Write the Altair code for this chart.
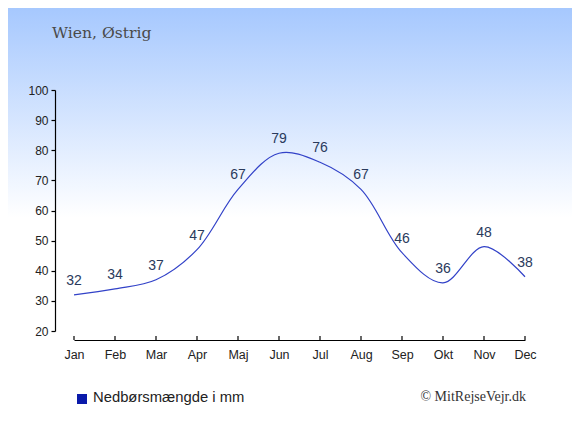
import altair as alt
import pandas as pd

months = ["Jan", "Feb", "Mar", "Apr", "Maj", "Jun", "Jul", "Aug", "Sep", "Okt", "Nov", "Dec"]
precip = [32, 34, 37, 47, 67, 79, 76, 67, 46, 36, 48, 38]
title_text = "Wien, Østrig"
legend_text = "Nedbørsmængde i mm"
credit_text = "© MitRejseVejr.dk"
y_ticks = [20, 30, 40, 50, 60, 70, 80, 90, 100]

W, H = 451, 241
PL, PT, PR, PB = 66, 82, 47, 96

df = pd.DataFrame({"month": months, "value": precip})
one = pd.DataFrame({"a": [0]})

xenc = alt.X("month:N", sort=months,
             scale=alt.Scale(type="point", padding=0),
             axis=alt.Axis(title=None, labelAngle=0, offset=9, tickSize=0,
                           labelPadding=8, labelFont="Liberation Sans",
                           labelFontSize=12.5, labelColor="#222222",
                           labelOverlap=False,
                           domainColor="#000000", domainWidth=1.2, zindex=2))
yenc = alt.Y("value:Q", scale=alt.Scale(domain=[20, 100], nice=False, zero=False),
             axis=alt.Axis(title=None, values=y_ticks, offset=19, tickSize=4,
                           labelPadding=3, labelFont="Liberation Sans",
                           labelFontSize=12, labelColor="#222222",
                           labelOverlap=False,
                           domainColor="#000000", tickColor="#000000",
                           domainWidth=1.2, tickWidth=1.2, grid=False, zindex=2))

gradient = alt.Gradient(
    gradient="linear", x1=0, y1=0, x2=0, y2=1,
    stops=[alt.GradientStop(offset=0, color="#a6c8fe"),
           alt.GradientStop(offset=0.5, color="#ffffff"),
           alt.GradientStop(offset=1, color="#ffffff")])

bg = alt.Chart(one).mark_rect(color=gradient, clip=False).encode(
    x=alt.value(-PL), x2=alt.value(W + PR),
    y=alt.value(-PT), y2=alt.value(H + PB))

line = alt.Chart(df).mark_line(interpolate="catmull-rom", color="#3242c8",
                               strokeWidth=1.2).encode(x=xenc, y=yenc)

labels = alt.Chart(df).mark_text(dy=-14, font="Liberation Sans", fontSize=14,
                                 color="#2a3a5c", baseline="middle").encode(
    x=xenc, y=yenc, text="value:Q")

xticks = alt.Chart(df).mark_rule(color="#000000", strokeWidth=1.2).encode(
    x=xenc, y=alt.value(H + 9), y2=alt.value(H + 5))

title = alt.Chart(one).mark_text(text=title_text, font="DejaVu Serif", fontSize=15.6,
                                 color="#4a4a4a", align="left",
                                 baseline="alphabetic").encode(
    x=alt.value(-22), y=alt.value(-52))

legend_sq = alt.Chart(one).mark_square(color="#0a1aaa", size=100, opacity=1).encode(
    x=alt.value(8), y=alt.value(309))

legend_tx = alt.Chart(one).mark_text(text=legend_text, font="Liberation Sans",
                                     fontSize=14.8, color="#222222", align="left",
                                     baseline="middle").encode(
    x=alt.value(19), y=alt.value(308))

credit = alt.Chart(one).mark_text(text=credit_text, font="Liberation Serif",
                                  fontSize=14, color="#333333", align="right",
                                  baseline="middle").encode(
    x=alt.value(452), y=alt.value(307))

chart = alt.layer(bg, line, labels, xticks, title, legend_sq, legend_tx, credit).properties(
    width=W, height=H,
    autosize=alt.AutoSizeParams(type="none"),
    padding={"left": PL, "top": PT, "right": PR, "bottom": PB},
    background="#ffffff",
).configure_view(stroke=None)

chart.save("out.html", embed_options={"renderer": "svg", "actions": False})
